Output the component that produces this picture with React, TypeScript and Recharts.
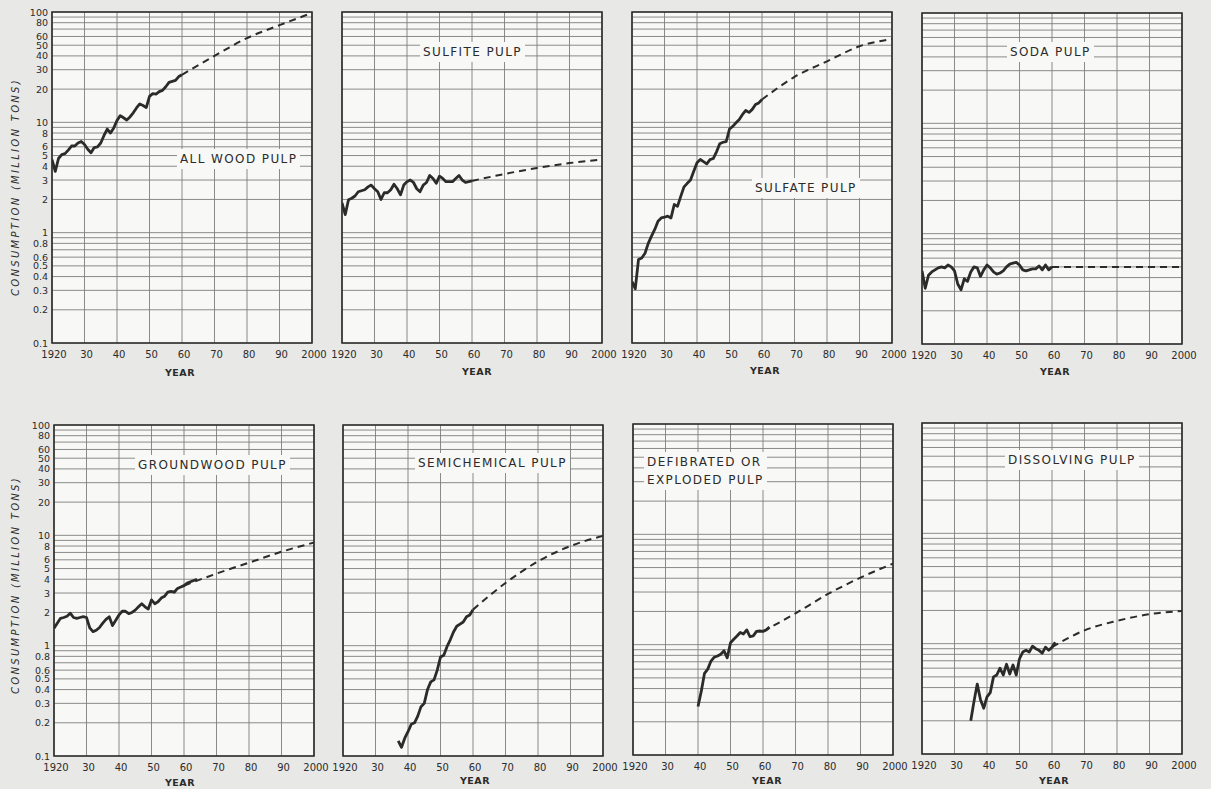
import React from 'react';
import { LineChart, Line, XAxis, YAxis, CartesianGrid, ReferenceArea } from 'recharts';

// ---------- categories / ticks ----------
const annualYears = [
  1920, 1921, 1922, 1923, 1924, 1925, 1926, 1927, 1928, 1929,
  1930, 1931, 1932, 1933, 1934, 1935, 1936, 1937, 1938, 1939,
  1940, 1941, 1942, 1943, 1944, 1945, 1946, 1947, 1948, 1949,
  1950, 1951, 1952, 1953, 1954, 1955, 1956, 1957, 1958, 1959,
  1960, 1961, 1962, 1963, 1964,
];
const projectionYears = [1960, 1970, 1980, 1990, 2000];
const xTicks = [1920, 1930, 1940, 1950, 1960, 1970, 1980, 1990, 2000];
const yGridTicks = [
  0.1, 0.2, 0.3, 0.4, 0.5, 0.6, 0.7, 0.8, 0.9,
  1, 2, 3, 4, 5, 6, 7, 8, 9,
  10, 20, 30, 40, 50, 60, 70, 80, 90, 100,
];
const yLabelTicks = [0.1, 0.2, 0.3, 0.4, 0.5, 0.6, 0.8, 1, 2, 3, 4, 5, 6, 8, 10, 20, 30, 40, 50, 60, 80, 100];

// ---------- series (million tons) ----------
const allWoodStart = 1920;
const allWoodActual = [4.6, 3.6, 4.7, 5.1, 5.2, 5.6, 6.1, 6.1, 6.5, 6.7, 6.3, 5.7, 5.3, 5.9, 6.0, 6.5, 7.6, 8.7, 8.0, 8.9,
  10.4, 11.5, 11.0, 10.5, 11.2, 12.2, 13.5, 14.7, 14.2, 13.6, 17.2, 18.2, 18.0, 19.0, 19.5, 21.0, 23.0, 23.5, 24.0, 26.0, 27.0];
const allWoodProjection = [27, 40, 58, 76, 98];

const sulfiteStart = 1920;
const sulfiteActual = [1.86, 1.46, 1.99, 2.05, 2.15, 2.35, 2.4, 2.45, 2.6, 2.7, 2.5, 2.35, 2.0, 2.3, 2.3, 2.45, 2.75, 2.5, 2.2, 2.7,
  2.9, 3.0, 2.85, 2.5, 2.35, 2.7, 2.85, 3.3, 3.1, 2.8, 3.25, 3.1, 2.9, 2.9, 2.9, 3.1, 3.3, 3.0, 2.85, 2.9, 2.95];
const sulfiteProjection = [2.95, 3.4, 3.86, 4.27, 4.6];

const sulfateStart = 1920;
const sulfateActual = [0.36, 0.31, 0.57, 0.59, 0.65, 0.8, 0.93, 1.07, 1.27, 1.36, 1.38, 1.41, 1.36, 1.8, 1.73, 2.13, 2.6, 2.8, 3.0, 3.6,
  4.3, 4.6, 4.4, 4.2, 4.6, 4.7, 5.4, 6.4, 6.6, 6.7, 8.7, 9.2, 9.9, 10.6, 11.8, 12.8, 12.3, 13.1, 14.5, 15.0, 16.1];
const sulfateProjection = [16.1, 25.8, 35.7, 48.9, 57];

const sodaStart = 1920;
const sodaActual = [0.46, 0.32, 0.42, 0.45, 0.47, 0.49, 0.5, 0.49, 0.52, 0.5, 0.46, 0.35, 0.31, 0.39, 0.37, 0.45, 0.5, 0.49, 0.41, 0.47,
  0.52, 0.49, 0.45, 0.43, 0.44, 0.46, 0.5, 0.53, 0.54, 0.55, 0.52, 0.47, 0.46, 0.47, 0.48, 0.48, 0.51, 0.47, 0.52, 0.47, 0.5];
const sodaProjection = [0.5, 0.5, 0.5, 0.5, 0.5];

const groundwoodStart = 1920;
const groundwoodActual = [1.44, 1.6, 1.77, 1.8, 1.85, 1.97, 1.8, 1.77, 1.8, 1.83, 1.8, 1.45, 1.34, 1.38, 1.46, 1.6, 1.73, 1.83, 1.52, 1.7,
  1.9, 2.05, 2.05, 1.95, 2.0, 2.1, 2.25, 2.4, 2.25, 2.15, 2.6, 2.4, 2.5, 2.7, 2.8, 3.05, 3.1, 3.05, 3.3, 3.4, 3.5, 3.7, 3.8, 3.9, 4.0];
const groundwoodProjection = [3.5, 4.5, 5.65, 7.1, 8.6];

const semichemicalStart = 1937;
const semichemicalActual = [0.137, 0.12, 0.145, 0.166, 0.194, 0.2, 0.23, 0.28, 0.3, 0.4, 0.47, 0.49, 0.6, 0.79, 0.82, 0.98,
  1.13, 1.33, 1.5, 1.57, 1.64, 1.83, 1.9, 2.12];
const semichemicalProjection = [2.12, 3.7, 5.8, 8.0, 9.9];

const defibratedStart = 1940;
const defibratedActual = [0.275, 0.377, 0.55, 0.6, 0.71, 0.77, 0.79, 0.82, 0.88, 0.76, 1.04, 1.12, 1.2, 1.29, 1.25, 1.36,
  1.18, 1.2, 1.32, 1.33, 1.32, 1.36, 1.44];
const defibratedProjection = [1.32, 1.92, 2.88, 4.05, 5.43];

const dissolvingStart = 1935;
const dissolvingActual = [0.2, 0.3, 0.43, 0.31, 0.26, 0.33, 0.36, 0.5, 0.52, 0.6, 0.52, 0.65, 0.53, 0.64, 0.52, 0.73, 0.84,
  0.87, 0.84, 0.95, 0.9, 0.87, 0.82, 0.93, 0.87, 0.93, 1.03];
const dissolvingProjection = [0.93, 1.32, 1.61, 1.85, 1.98];

// ---------- layout / style ----------
const FONT = '"DejaVu Sans", "Liberation Sans", sans-serif';
const PAGE_BG = '#e8e8e6';
const PLOT_BG = '#f8f8f6';
const INK = '#2b2b2b';
const GRID = '#7e7e7e';
const PLOT_W = 260;
const PLOT_H = 331;
const Y_AXIS_W = 52;
const X_AXIS_H = 30;
const M_TOP = 8;
const M_RIGHT = 20;

type Row = { year: number; actual: number | null; projection: number | null };

function buildRows(start: number, actual: number[], projection: number[]): Row[] {
  const map = new Map<number, Row>();
  annualYears.forEach((y) => {
    const i = y - start;
    map.set(y, { year: y, actual: i >= 0 && i < actual.length ? actual[i] : null, projection: null });
  });
  projectionYears.forEach((y, i) => {
    const r = map.get(y) || { year: y, actual: null, projection: null };
    r.projection = projection[i];
    map.set(y, r);
  });
  return Array.from(map.values()).sort((a, b) => a.year - b.year);
}

type PanelDef = {
  key: string;
  title: string[];
  left: number;
  top: number;
  titleX: number;
  titleY: number;
  yearX: number;
  yearY: number;
  yLabels: boolean;
  rows: Row[];
};

const panels: PanelDef[] = [
  { key: 'all', title: ['ALL WOOD PULP'], left: 52, top: 12, titleX: 180, titleY: 159, yearX: 180, yearY: 372, yLabels: true, rows: buildRows(allWoodStart, allWoodActual, allWoodProjection) },
  { key: 'sulfite', title: ['SULFITE PULP'], left: 342, top: 12, titleX: 423, titleY: 52, yearX: 477, yearY: 371, yLabels: false, rows: buildRows(sulfiteStart, sulfiteActual, sulfiteProjection) },
  { key: 'sulfate', title: ['SULFATE PULP'], left: 632, top: 12, titleX: 755, titleY: 188, yearX: 765, yearY: 370, yLabels: false, rows: buildRows(sulfateStart, sulfateActual, sulfateProjection) },
  { key: 'soda', title: ['SODA PULP'], left: 922, top: 13, titleX: 1010, titleY: 52, yearX: 1055, yearY: 371, yLabels: false, rows: buildRows(sodaStart, sodaActual, sodaProjection) },
  { key: 'ground', title: ['GROUNDWOOD PULP'], left: 54, top: 425, titleX: 138, titleY: 465, yearX: 180, yearY: 782, yLabels: true, rows: buildRows(groundwoodStart, groundwoodActual, groundwoodProjection) },
  { key: 'semi', title: ['SEMICHEMICAL PULP'], left: 343, top: 425, titleX: 418, titleY: 463, yearX: 475, yearY: 780, yLabels: false, rows: buildRows(semichemicalStart, semichemicalActual, semichemicalProjection) },
  { key: 'defib', title: ['DEFIBRATED OR', 'EXPLODED PULP'], left: 633, top: 424, titleX: 647, titleY: 471, yearX: 767, yearY: 780, yLabels: false, rows: buildRows(defibratedStart, defibratedActual, defibratedProjection) },
  { key: 'diss', title: ['DISSOLVING PULP'], left: 922, top: 423, titleX: 1008, titleY: 460, yearX: 1054, yearY: 780, yLabels: false, rows: buildRows(dissolvingStart, dissolvingActual, dissolvingProjection) },
];

const fmtYear = (v: number) => (v === 1920 || v === 2000 ? String(v) : String(v - 1900));

function Panel({ p }: { p: PanelDef }) {
  const xTick = (props: any) => (
    <text
      x={props.x + 2}
      y={props.y + 11}
      textAnchor="middle"
      dominantBaseline="central"
      fontSize={10}
      fill={INK}
      fontFamily={FONT}
    >
      {fmtYear(props.payload.value)}
    </text>
  );
  const yTick = (props: any) => {
    const v = props.payload.value;
    if (!p.yLabels || !yLabelTicks.includes(v)) return <g />;
    return (
      <text x={props.x - 4} y={props.y} textAnchor="end" dominantBaseline="central" fontSize={9.5} fill={INK} fontFamily={FONT}>
        {String(v)}
      </text>
    );
  };
  return (
    <div style={{ position: 'absolute', left: p.left - Y_AXIS_W, top: p.top - M_TOP }}>
      <LineChart
        width={Y_AXIS_W + PLOT_W + M_RIGHT}
        height={M_TOP + PLOT_H + X_AXIS_H}
        data={p.rows}
        margin={{ top: M_TOP, right: M_RIGHT, bottom: 0, left: 0 }}
      >
        <CartesianGrid stroke={GRID} strokeWidth={0.9} fill={PLOT_BG} fillOpacity={1} />
        <XAxis
          dataKey="year"
          type="number"
          domain={[1920, 2000]}
          ticks={xTicks}
          allowDataOverflow
          height={X_AXIS_H}
          tickLine={false}
          tickSize={0}
          tickMargin={0}
          axisLine={false}
          tick={xTick}
          interval={0}
        />
        <YAxis
          type="number"
          scale="log"
          domain={[0.1, 100]}
          ticks={yGridTicks}
          allowDataOverflow
          width={Y_AXIS_W}
          tickLine={false}
          tickSize={0}
          tickMargin={0}
          axisLine={false}
          tick={yTick}
          interval={0}
        />
        <ReferenceArea x1={1920} x2={2000} y1={0.1} y2={100} fill="none" fillOpacity={0} stroke={INK} strokeWidth={1.6} />
        <Line
          dataKey="projection"
          type="monotone"
          stroke={INK}
          strokeWidth={2}
          strokeDasharray="7 5"
          dot={false}
          connectNulls
          isAnimationActive={false}
        />
        <Line
          dataKey="actual"
          type="linear"
          stroke={INK}
          strokeWidth={2.8}
          strokeLinejoin="round"
          dot={false}
          connectNulls={false}
          isAnimationActive={false}
        />
      </LineChart>
    </div>
  );
}

export default function App() {
  return (
    <div style={{ position: 'absolute', left: 0, top: 0, width: 1211, height: 789, background: PAGE_BG, overflow: 'hidden', fontFamily: FONT }}>
      {panels.map((p) => (
        <Panel key={p.key} p={p} />
      ))}
      {panels.map((p) => (
        <div
          key={p.key + '-title'}
          style={{
            position: 'absolute',
            left: p.titleX - 3,
            top: p.titleY,
            transform: 'translateY(-50%)',
            background: PLOT_BG,
            padding: '1px 3px',
            fontSize: 12,
            letterSpacing: 1.4,
            lineHeight: '18px',
            color: INK,
            whiteSpace: 'nowrap',
          }}
        >
          {p.title.map((t, i) => (
            <div key={i}>{t}</div>
          ))}
        </div>
      ))}
      {panels.map((p) => (
        <div
          key={p.key + '-year'}
          style={{
            position: 'absolute',
            left: p.yearX,
            top: p.yearY,
            transform: 'translate(-50%, -50%)',
            fontSize: 9.5,
            fontWeight: 'bold',
            letterSpacing: 0.5,
            color: INK,
          }}
        >
          YEAR
        </div>
      ))}
      {[187, 585].map((cy) => (
        <div
          key={'ylab' + cy}
          style={{
            position: 'absolute',
            left: 15,
            top: cy,
            transform: 'translate(-50%, -50%) rotate(-90deg)',
            fontSize: 10,
            fontStyle: 'italic',
            letterSpacing: 2.3,
            whiteSpace: 'nowrap',
            color: INK,
          }}
        >
          CONSUMPTION (MILLION TONS)
        </div>
      ))}
    </div>
  );
}
